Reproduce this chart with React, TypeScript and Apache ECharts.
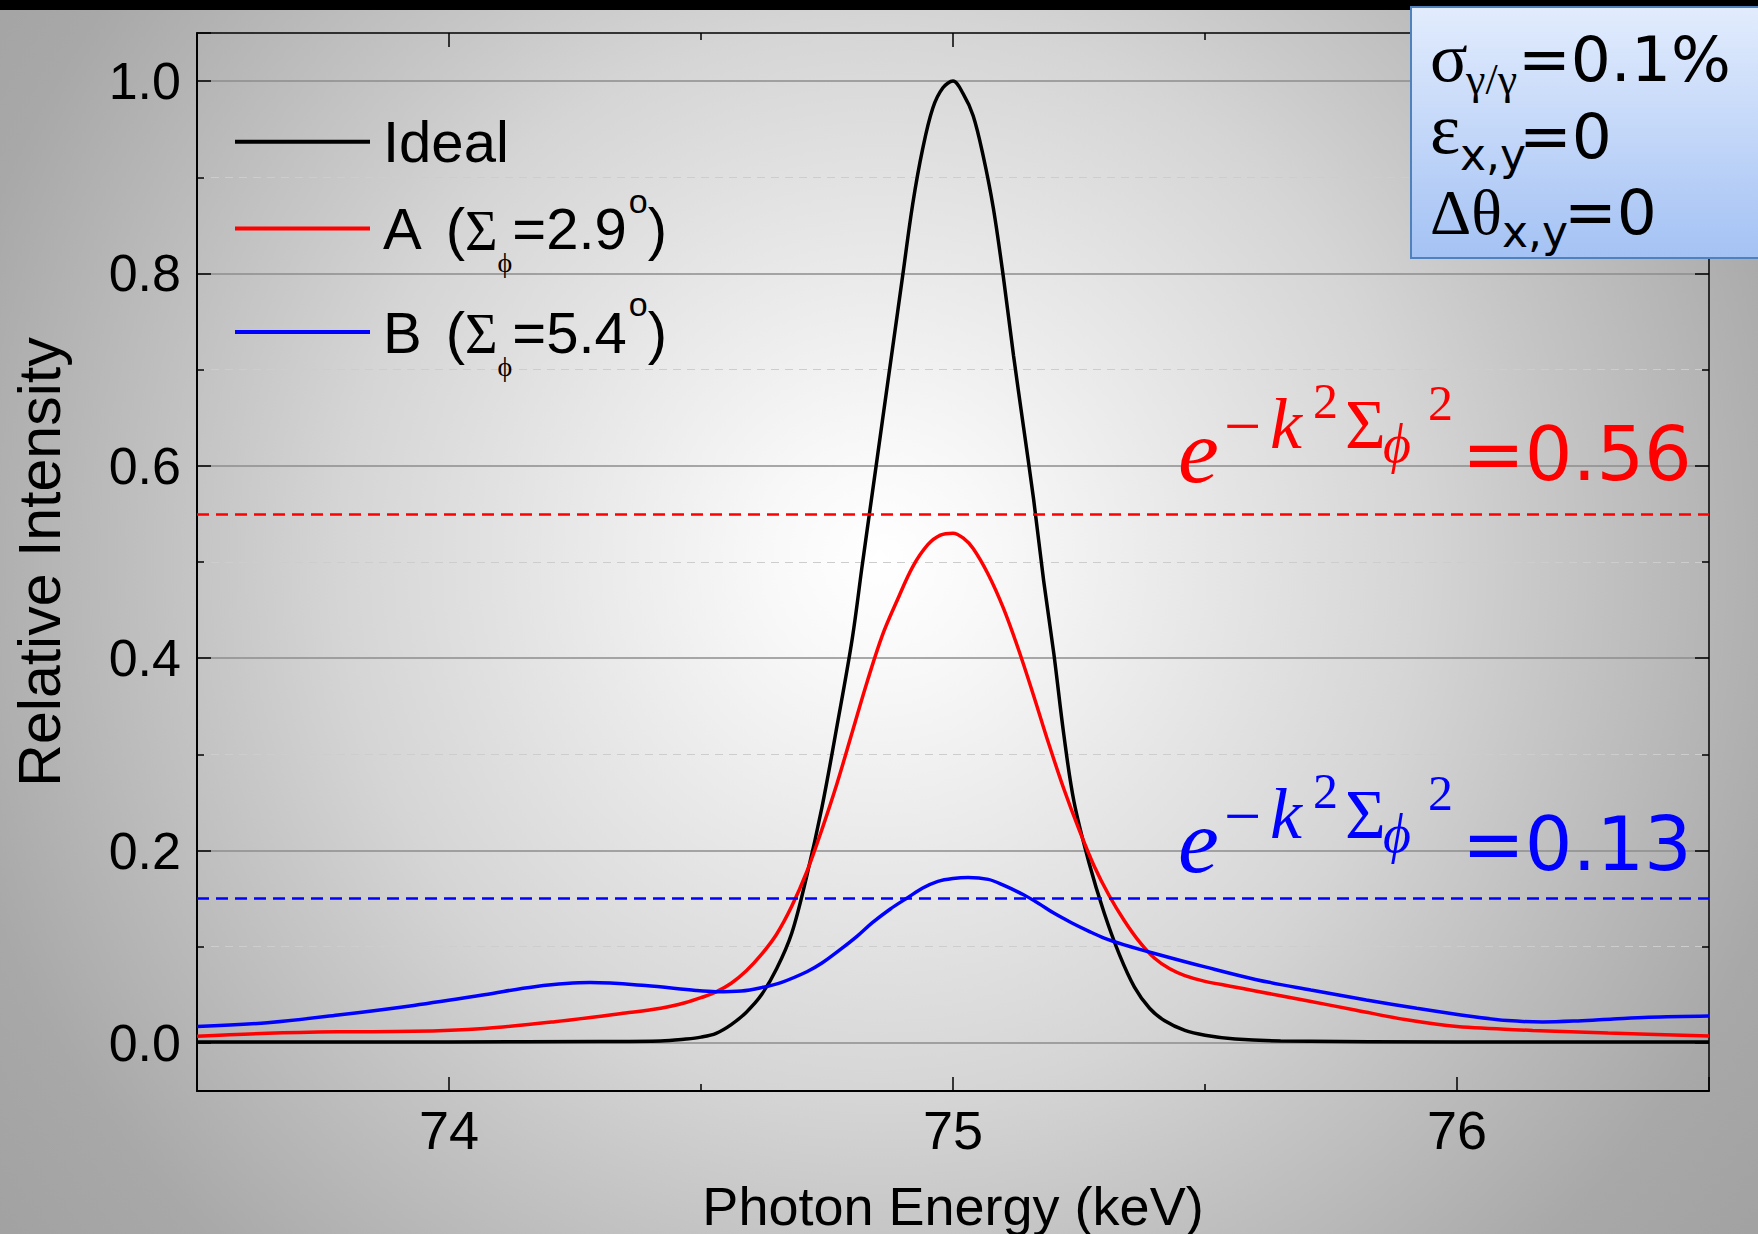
import React, { useEffect, useRef } from 'react';
import * as echarts from 'echarts';

// ---------------- data ----------------
const idealCurve: [number, number][] = [
  [73.5, 0.001], [74.0, 0.001], [74.3, 0.0015], [74.42, 0.002], [74.47, 0.004], [74.5, 0.006],
  [74.53, 0.01], [74.56, 0.019], [74.59, 0.032], [74.62, 0.05], [74.65, 0.077], [74.68, 0.114],
  [74.71, 0.174], [74.74, 0.245], [74.77, 0.33], [74.8, 0.42], [74.82, 0.497], [74.84, 0.572],
  [74.86, 0.647], [74.88, 0.722], [74.9, 0.797], [74.92, 0.872], [74.94, 0.93], [74.96, 0.972],
  [74.98, 0.993], [75.0, 1.0], [75.02, 0.987], [75.04, 0.964], [75.06, 0.922], [75.08, 0.868],
  [75.1, 0.796], [75.12, 0.715], [75.14, 0.64], [75.16, 0.565], [75.18, 0.48], [75.2, 0.405],
  [75.22, 0.32], [75.24, 0.251], [75.27, 0.187], [75.3, 0.135], [75.33, 0.092], [75.36, 0.058],
  [75.39, 0.036], [75.42, 0.023], [75.46, 0.013], [75.5, 0.008], [75.56, 0.004], [75.65, 0.002],
  [76.0, 0.001], [76.5, 0.001],
];

const curveA: [number, number][] = [
  [73.5, 0.007], [73.64, 0.01], [73.78, 0.0115], [73.93, 0.012], [74.07, 0.015], [74.21, 0.022],
  [74.35, 0.031], [74.42, 0.036], [74.47, 0.042], [74.5, 0.047], [74.53, 0.053], [74.56, 0.062],
  [74.59, 0.075], [74.62, 0.092], [74.65, 0.113], [74.68, 0.142], [74.71, 0.178], [74.74, 0.222],
  [74.77, 0.27], [74.8, 0.323], [74.83, 0.376], [74.86, 0.424], [74.89, 0.461], [74.92, 0.495],
  [74.95, 0.518], [74.975, 0.528], [75.0, 0.53], [75.02, 0.525], [75.04, 0.514], [75.07, 0.487],
  [75.1, 0.452], [75.13, 0.409], [75.16, 0.361], [75.19, 0.311], [75.22, 0.264], [75.25, 0.222],
  [75.28, 0.184], [75.31, 0.153], [75.34, 0.127], [75.37, 0.105], [75.4, 0.088], [75.43, 0.077],
  [75.46, 0.07], [75.5, 0.064], [75.55, 0.059], [75.6, 0.054], [75.7, 0.044], [75.8, 0.034],
  [75.9, 0.024], [76.0, 0.017], [76.15, 0.013], [76.3, 0.0102], [76.5, 0.0073],
];

const curveB: [number, number][] = [
  [73.5, 0.017], [73.64, 0.021], [73.78, 0.029], [73.93, 0.039], [74.07, 0.05], [74.17, 0.0585],
  [74.28, 0.0627], [74.39, 0.0596], [74.49, 0.0545], [74.53, 0.0533], [74.58, 0.054], [74.62, 0.0575],
  [74.66, 0.063], [74.71, 0.074], [74.74, 0.083], [74.78, 0.0985], [74.81, 0.111], [74.84, 0.125],
  [74.875, 0.139], [74.91, 0.151], [74.94, 0.161], [74.97, 0.168], [75.0, 0.171], [75.03, 0.172],
  [75.07, 0.17], [75.1, 0.164], [75.14, 0.154], [75.17, 0.145], [75.2, 0.135], [75.235, 0.125],
  [75.27, 0.116], [75.3, 0.109], [75.34, 0.102], [75.4, 0.093], [75.5, 0.079], [75.6, 0.066],
  [75.71, 0.055], [75.82, 0.0447], [75.92, 0.036], [76.03, 0.0274], [76.1, 0.0232], [76.17, 0.0218],
  [76.24, 0.0229], [76.31, 0.0249], [76.38, 0.0267], [76.5, 0.028],
];

const seriesNames = ['Ideal', 'A (Σϕ=2.9°)', 'B (Σϕ=5.4°)'];
const seriesColors = ['#000000', '#ff0000', '#0000ff'];
const markLevels = [0.553, 0.149];
const markTexts = ['=0.56', '=0.13'];
const xRange = [73.5, 76.5];
const yRange = [-0.05, 1.05];

// ---------------- styling ----------------
const SANS = "'Liberation Sans', Arial, sans-serif";
const SERIF = "'Liberation Serif', 'Times New Roman', serif";
const DEJAVU = "'DejaVu Sans', Verdana, sans-serif";

const legendRich = {
  m0: { fontFamily: SANS, fontSize: 58, lineHeight: 60, color: '#000', padding: [0, 0, 0, 8] },
  op: { fontFamily: SANS, fontSize: 58, lineHeight: 60, color: '#000', padding: [0, 0, 0, 24] },
  m: { fontFamily: SANS, fontSize: 58, lineHeight: 60, color: '#000' },
  s: { fontFamily: SERIF, fontSize: 56, lineHeight: 60, color: '#000', padding: [4, 0, 0, 0] },
  sub: { fontFamily: SERIF, fontSize: 28, lineHeight: 60, color: '#000', padding: [68, 0, 0, 0] },
  sup: { fontFamily: SANS, fontSize: 34, lineHeight: 60, color: '#000', padding: [0, 0, 56, 2] },
};

const legendText: Record<string, string> = {
  [seriesNames[0]]: '{m0|Ideal}',
  [seriesNames[1]]: '{m0|A}{op|(}{s|Σ}{sub|ϕ}{m|=2.9}{sup|o}{m|)}',
  [seriesNames[2]]: '{m0|B}{op|(}{s|Σ}{sub|ϕ}{m|=5.4}{sup|o}{m|)}',
};

const annRich = (fill: string) => ({
  e: { fontFamily: SERIF, fontStyle: 'italic', fontSize: 92, lineHeight: 120, width: 46, fill, padding: [0, 0, 6, 0] },
  mi: { fontFamily: SERIF, fontSize: 66, lineHeight: 120, width: 46, fill, padding: [0, 0, 57, 0] },
  k: { fontFamily: SERIF, fontStyle: 'italic', fontSize: 72, lineHeight: 120, width: 43, fill, padding: [0, 0, 61, 0] },
  t: { fontFamily: SERIF, fontSize: 50, lineHeight: 120, width: 32, fill, padding: [0, 0, 106, 0] },
  S: { fontFamily: SERIF, fontSize: 70, lineHeight: 120, width: 38, fill, padding: [0, 0, 59, 0] },
  p: { fontFamily: SERIF, fontStyle: 'italic', fontSize: 54, lineHeight: 120, width: 45, fill, padding: [0, 0, 20, 0] },
  t2: { fontFamily: SERIF, fontSize: 50, lineHeight: 120, width: 34, fill, padding: [0, 0, 102, 0] },
  v: { fontFamily: DEJAVU, fontSize: 75, lineHeight: 120, fill },
});

const boxRich = {
  g: { fontFamily: SERIF, fontSize: 70, lineHeight: 100, width: 36, fill: '#000', padding: [0, 0, 3, 0] },
  gs: { fontFamily: SERIF, fontSize: 44, lineHeight: 100, width: 52, fill: '#000', padding: [40, 0, 0, 0] },
  g2: { fontFamily: SERIF, fontSize: 72, lineHeight: 100, width: 30, fill: '#000', padding: [0, 0, 15, 0] },
  xs: { fontFamily: DEJAVU, fontSize: 44, lineHeight: 100, width: 59, fill: '#000', padding: [37, 0, 0, 0] },
  d: { fontFamily: SERIF, fontSize: 64, lineHeight: 100, width: 72, fill: '#000' },
  xs3: { fontFamily: DEJAVU, fontSize: 44, lineHeight: 100, width: 62, fill: '#000', padding: [39, 0, 0, 0] },
  v: { fontFamily: DEJAVU, fontSize: 63, lineHeight: 100, fill: '#000' },
};

function textEl(x: number, y: number, text: string, rich: any) {
  return {
    type: 'text',
    x,
    y,
    z: 100,
    silent: true,
    style: {
      text,
      rich,
      align: 'left',
      verticalAlign: 'middle',
      textAlign: 'left',
      textVerticalAlign: 'middle',
    },
  };
}

function buildOption() {
  const tickStyle = { color: '#000', width: 1.5 };
  const commonX = {
    type: 'value',
    min: xRange[0],
    max: xRange[1],
    splitNumber: 3,
    splitLine: { show: false },
    axisTick: { show: true, inside: true, length: 14, lineStyle: tickStyle },
    minorTick: { show: true, splitNumber: 2, length: 7, lineStyle: tickStyle },
  };
  const commonY = {
    type: 'value',
    min: yRange[0],
    max: yRange[1],
    axisTick: { show: true, inside: true, length: 14, lineStyle: tickStyle },
    minorTick: { show: true, splitNumber: 2, length: 7, lineStyle: tickStyle },
  };
  const series = [idealCurve, curveA, curveB].map((data, i) => {
    const s: any = {
      name: seriesNames[i],
      type: 'line',
      data,
      xAxisIndex: 0,
      yAxisIndex: 0,
      symbol: 'none',
      showSymbol: false,
      smooth: 0.35,
      color: seriesColors[i],
      itemStyle: { color: seriesColors[i] },
      lineStyle: { color: seriesColors[i], width: 3.5 },
      emphasis: { disabled: true },
      z: 3 + i,
    };
    if (i > 0) {
      s.markLine = {
        silent: true,
        symbol: ['none', 'none'],
        label: { show: false },
        emphasis: { disabled: true },
        lineStyle: { color: seriesColors[i], type: [12, 7], width: 2.5 },
        data: [{ yAxis: markLevels[i - 1] }],
      };
    }
    return s;
  });

  const legendTops = [112.7, 180.6, 284];
  const legend = seriesNames.map((n, i) => ({
    data: [n],
    left: 235,
    top: legendTops[i],
    padding: 0,
    icon: 'rect',
    itemWidth: 135,
    itemHeight: 4,
    selectedMode: false,
    formatter: (name: string) => legendText[name],
    textStyle: { color: '#000', fontFamily: SANS, fontSize: 58, rich: legendRich },
  }));

  const annStr = (v: string) => `{e|e}{mi|−}{k|k}{t|2}{S|Σ}{p|ϕ}{t2|2}{v|${v}}`;

  return {
    animation: false,
    backgroundColor: {
      type: 'radial',
      x: 880,
      y: 560,
      r: 1150,
      global: true,
      colorStops: [
        { offset: 0, color: '#ffffff' },
        { offset: 0.1, color: '#f8f8f8' },
        { offset: 0.47, color: '#d5d5d5' },
        { offset: 0.57, color: '#c8c8c8' },
        { offset: 0.83, color: '#a8a8a8' },
        { offset: 1, color: '#a0a0a0' },
      ],
    },
    grid: { left: 197, right: 49, top: 33, bottom: 143, containLabel: false, outerBoundsMode: 'none' },
    legend,
    xAxis: [
      {
        ...commonX,
        position: 'bottom',
        axisLine: { show: true, onZero: false, lineStyle: { color: '#000', width: 2 } },
        axisLabel: {
          show: true,
          margin: 12,
          fontSize: 54,
          fontFamily: SANS,
          color: '#000',
          showMinLabel: false,
          showMaxLabel: false,
          formatter: (v: number) => String(v),
        },
        name: 'Photon Energy (keV)',
        nameLocation: 'middle',
        nameGap: 88,
        nameTextStyle: { fontSize: 54, fontFamily: SANS, color: '#000' },
      },
      {
        ...commonX,
        position: 'top',
        axisLine: { show: true, onZero: false, lineStyle: { color: '#000', width: 1.5 } },
        axisLabel: { show: false },
      },
    ],
    yAxis: [
      {
        ...commonY,
        position: 'left',
        axisLine: { show: true, onZero: false, lineStyle: { color: '#000', width: 2 } },
        splitLine: { show: true, showMinLine: false, showMaxLine: false, lineStyle: { color: '#8c8c8c', width: 1.5 } },
        minorSplitLine: { show: true, lineStyle: { color: '#cdcdcd', width: 1, type: [8, 6] } },
        axisLabel: {
          show: true,
          margin: 16,
          fontSize: 52,
          fontFamily: SANS,
          color: '#000',
          showMinLabel: false,
          showMaxLabel: false,
          formatter: (v: number) => v.toFixed(1),
        },
        name: 'Relative Intensity',
        nameLocation: 'middle',
        nameGap: 128,
        nameTextStyle: { fontSize: 59, fontFamily: SANS, color: '#000' },
      },
      {
        ...commonY,
        position: 'right',
        axisLine: { show: true, onZero: false, lineStyle: { color: '#000', width: 1.5 } },
        splitLine: { show: false },
        minorSplitLine: { show: false },
        axisLabel: { show: false },
      },
    ],
    series,
    graphic: [
      { type: 'rect', z: 90, silent: true, shape: { x: 0, y: 0, width: 1758, height: 10 }, style: { fill: '#000' } },
      {
        type: 'rect',
        z: 90,
        silent: true,
        shape: { x: 1411, y: 7, width: 360, height: 251 },
        style: {
          fill: {
            type: 'linear', x: 0, y: 0, x2: 0, y2: 1,
            colorStops: [
              { offset: 0, color: '#e2ecfd' },
              { offset: 1, color: '#a4c2f4' },
            ],
          },
          stroke: '#4f81bd',
          lineWidth: 2,
        },
      },
      textEl(1430, 59, '{g|σ}{gs|γ/γ}{v|=0.1%}', boxRich),
      textEl(1430, 136, '{g2|ε}{xs|x,y}{v|=0}', boxRich),
      textEl(1430, 212, '{d|Δθ}{xs3|x,y}{v|=0}', boxRich),
      textEl(1178, 454, annStr(markTexts[0]), annRich(seriesColors[1])),
      textEl(1178, 844, annStr(markTexts[1]), annRich(seriesColors[2])),
    ],
  };
}

export default function App() {
  const ref = useRef<HTMLDivElement>(null);
  useEffect(() => {
    document.body.style.margin = '0';
    const chart = echarts.init(ref.current as HTMLDivElement, null, { renderer: 'svg' });
    chart.setOption(buildOption() as any);
    return () => chart.dispose();
  }, []);
  return <div ref={ref} style={{ position: 'absolute', left: 0, top: 0, width: 1758, height: 1234 }} />;
}
